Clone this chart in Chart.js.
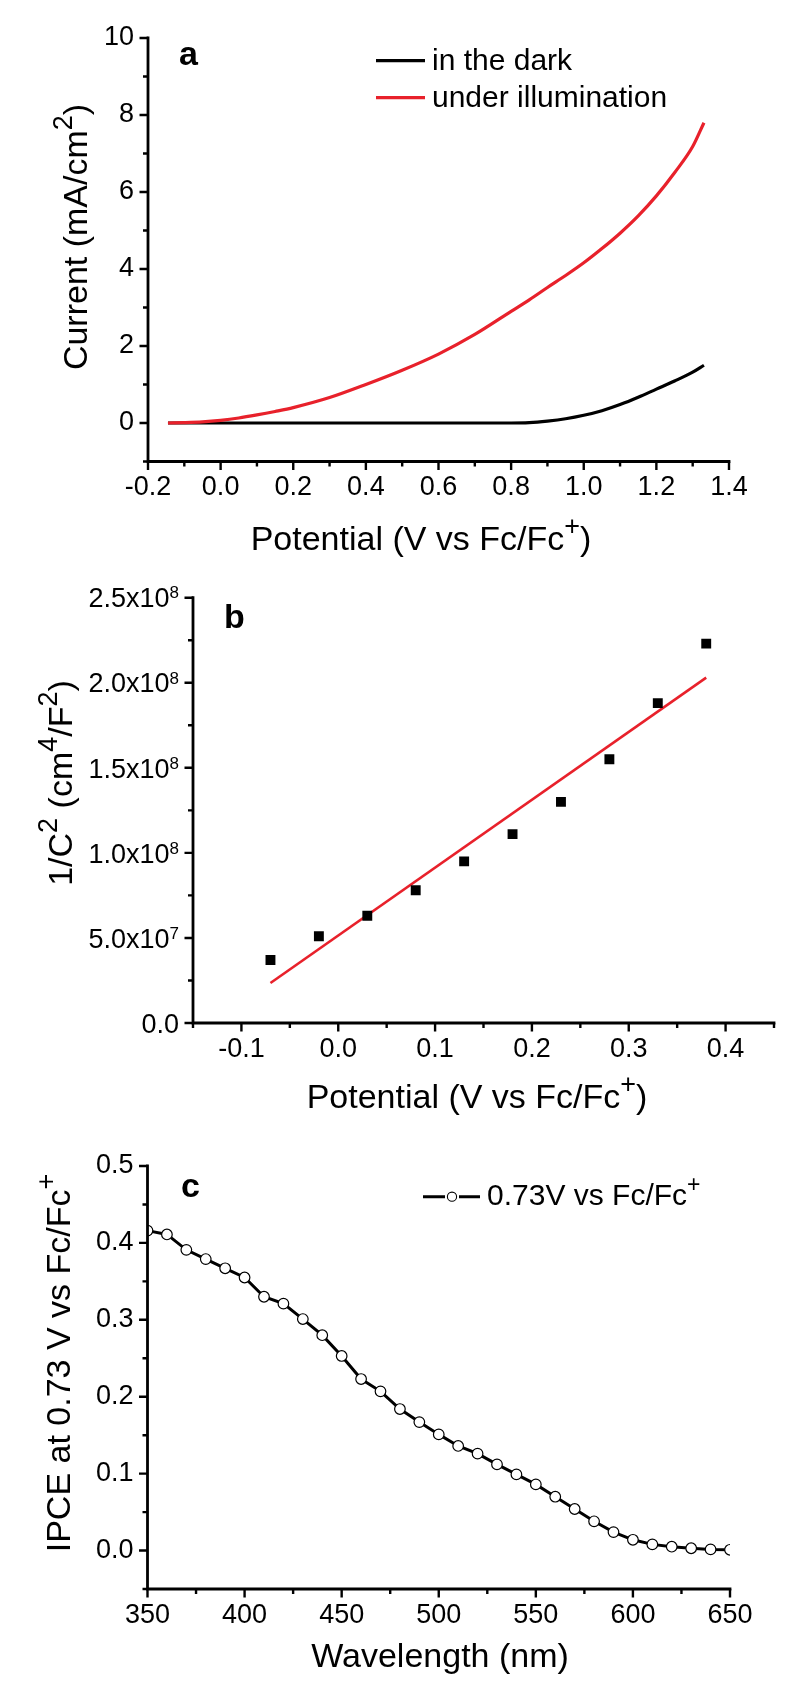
<!DOCTYPE html>
<html>
<head>
<meta charset="utf-8">
<script src="https://cdn.jsdelivr.net/npm/chart.js@4.4.1/dist/chart.umd.min.js"></script>
<style>
  body { margin: 0; background: #fff; }
  #wrap { position: relative; width: 800px; height: 1701px; background: #fff; }
  canvas { position: absolute; left: 0; }
</style>
</head>
<body>
<div id="wrap">
  <canvas id="chartA" width="800" height="560" style="top:0"></canvas>
  <canvas id="chartB" width="800" height="560" style="top:560px"></canvas>
  <canvas id="chartC" width="800" height="581" style="top:1120px"></canvas>
</div>
<script>
const FONT = '"Liberation Sans", Arial, Helvetica, sans-serif';
Chart.defaults.font.family = FONT;
Chart.defaults.color = '#000';
const RED = '#e8212b';

// (a) current vs potential
const aPotential = [-0.145, -0.1, -0.05, 0.0, 0.05, 0.1, 0.15, 0.2, 0.3, 0.4, 0.5, 0.6, 0.7, 0.8, 0.85, 0.9, 0.95, 1.0, 1.05, 1.1, 1.15, 1.2, 1.25, 1.3, 1.331];
const aDark  = [0.0, 0.0, 0.0, 0.0, 0.0, 0.0, 0.0, 0.0, 0.0, 0.0, 0.0, 0.0, 0.0, 0.0, 0.01, 0.05, 0.11, 0.20, 0.32, 0.48, 0.67, 0.88, 1.09, 1.32, 1.50];
const aLight = [0.0, 0.01, 0.03, 0.07, 0.13, 0.21, 0.30, 0.40, 0.66, 1.00, 1.37, 1.79, 2.30, 2.90, 3.20, 3.52, 3.83, 4.16, 4.53, 4.93, 5.38, 5.90, 6.50, 7.18, 7.80];
const aXTicks = [-0.2, 0, 0.2, 0.4, 0.6, 0.8, 1.0, 1.2, 1.4];
const aYTicks = [0, 2, 4, 6, 8, 10];

// (b) Mott-Schottky
const bPotential = [-0.07, -0.02, 0.03, 0.08, 0.13, 0.18, 0.23, 0.28, 0.33, 0.38];
const bInvC2 = [3.7e7, 5.1e7, 6.3e7, 7.8e7, 9.5e7, 1.11e8, 1.30e8, 1.55e8, 1.88e8, 2.23e8];
const bFitX = [-0.07, 0.38];
const bFitY = [2.35e7, 2.03e8];
const bXTicks = [-0.1, 0, 0.1, 0.2, 0.3, 0.4];
const bYTicks = [0, 5e7, 1e8, 1.5e8, 2e8, 2.5e8];

// (c) IPCE
const cWavelength = [350, 360, 370, 380, 390, 400, 410, 420, 430, 440, 450, 460, 470, 480, 490, 500, 510, 520, 530, 540, 550, 560, 570, 580, 590, 600, 610, 620, 630, 640, 650];
const cIPCE = [0.416, 0.411, 0.391, 0.379, 0.367, 0.355, 0.330, 0.321, 0.301, 0.280, 0.253, 0.223, 0.207, 0.184, 0.167, 0.151, 0.136, 0.126, 0.112, 0.099, 0.086, 0.070, 0.054, 0.038, 0.024, 0.014, 0.008, 0.005, 0.003, 0.0015, 0.001];
const cXTicks = [350, 400, 450, 500, 550, 600, 650];
const cYTicks = [0, 0.1, 0.2, 0.3, 0.4, 0.5];

const pts = (xs, ys) => xs.map((x, i) => ({ x, y: ys[i] }));

// text with ^{superscript} parts
function drawRich(ctx, s, x, y, size, align, sup = 0.78, raise = 0.45) {
  const parts = [];
  const re = /\^\{([^}]*)\}/g;
  let last = 0, m;
  while ((m = re.exec(s))) {
    if (m.index > last) parts.push({ t: s.slice(last, m.index) });
    parts.push({ t: m[1], sup: true });
    last = re.lastIndex;
  }
  if (last < s.length) parts.push({ t: s.slice(last) });
  const font = p => (p.sup ? Math.round(size * sup) : size) + 'px ' + FONT;
  let w = 0;
  parts.forEach(p => { ctx.font = font(p); p.w = ctx.measureText(p.t).width; w += p.w; });
  let cx = align === 'center' ? x - w / 2 : align === 'right' ? x - w : x;
  ctx.textAlign = 'left';
  ctx.textBaseline = 'alphabetic';
  parts.forEach(p => {
    ctx.font = font(p);
    ctx.fillText(p.t, cx, p.sup ? y - size * raise : y);
    cx += p.w;
  });
}

function decor(o) {
  return {
    id: 'decor',
    afterDraw(chart) {
      const { ctx, chartArea: a, scales: { x, y } } = chart;
      ctx.save();
      ctx.fillStyle = '#000';
      ctx.strokeStyle = '#000';

      // axis lines
      ctx.lineWidth = 2.8;
      ctx.lineCap = 'square';
      ctx.beginPath();
      ctx.moveTo(a.left, a.top);
      ctx.lineTo(a.left, a.bottom);
      ctx.lineTo(a.right, a.bottom);
      ctx.stroke();

      // major + minor ticks
      ctx.lineWidth = 2.4;
      ctx.lineCap = 'butt';
      const near = (arr, v, step) => arr.some(t => Math.abs(t.value - v) < step * 1e-3);
      ctx.beginPath();
      for (let i = 0; ; i++) {
        const v = x.min + i * o.xMinor;
        if (v > x.max + o.xMinor * 1e-3) break;
        const px = x.getPixelForValue(v);
        ctx.moveTo(px, a.bottom);
        ctx.lineTo(px, a.bottom + (near(x.ticks, v, o.xMinor) ? 8.5 : 5));
      }
      for (let i = 0; ; i++) {
        const v = y.min + i * o.yMinor;
        if (v > y.max + o.yMinor * 1e-3) break;
        const py = y.getPixelForValue(v);
        ctx.moveTo(a.left, py);
        ctx.lineTo(a.left - (near(y.ticks, v, o.yMinor) ? 8.5 : 5), py);
      }
      ctx.stroke();

      // custom y tick labels (scientific)
      if (o.yRich) {
        y.ticks.forEach(t => {
          drawRich(ctx, o.yRich(t.value), a.left - 14, y.getPixelForValue(t.value) + 9.7, 27, 'right', 0.64, 0.33);
        });
      }

      // panel letter
      ctx.font = 'bold 34px ' + FONT;
      ctx.textAlign = 'left';
      ctx.textBaseline = 'alphabetic';
      ctx.fillText(o.letter[0], o.letter[1], o.letter[2]);

      // axis titles
      drawRich(ctx, o.xTitle[0], o.xTitle[1], o.xTitle[2], 34, 'center');
      ctx.save();
      ctx.translate(o.yTitle[1], o.yTitle[2]);
      ctx.rotate(-Math.PI / 2);
      drawRich(ctx, o.yTitle[0], 0, 0, 34, 'center');
      ctx.restore();

      // legend
      if (o.legend) o.legend(ctx, chart);
      ctx.restore();
    }
  };
}

function makeChart(id, datasets, o) {
  const fit = (v) => (s) => { if (s.isHorizontal()) s.height = v; else s.width = v; };
  const tickSet = (arr) => (s) => { s.ticks = arr.map(v => ({ value: v })); };
  return new Chart(document.getElementById(id), {
    type: 'scatter',
    data: { datasets },
    options: {
      responsive: false,
      animation: false,
      events: [],
      layout: { padding: { left: 0, top: o.area.top, right: 800 - o.area.right, bottom: 0 } },
      plugins: { legend: { display: false }, tooltip: { enabled: false } },
      scales: {
        x: {
          type: 'linear', min: o.xRange[0], max: o.xRange[1],
          afterFit: fit(o.h - o.area.bottom),
          afterBuildTicks: tickSet(o.xTicks),
          grid: { display: false, drawTicks: false },
          border: { display: false },
          ticks: { font: { size: 27 }, color: '#000', padding: o.xPad, autoSkip: false, maxRotation: 0, callback: o.xFmt }
        },
        y: {
          type: 'linear', min: o.yRange[0], max: o.yRange[1],
          afterFit: fit(o.area.left),
          afterBuildTicks: tickSet(o.yTicks),
          grid: { display: false, drawTicks: false },
          border: { display: false },
          ticks: { display: !o.yRich, font: { size: 27 }, color: '#000', padding: 14, autoSkip: false, callback: o.yFmt }
        }
      }
    },
    plugins: [decor(o)]
  });
}

// (a)
makeChart('chartA', [
  { label: 'under illumination', data: pts(aPotential, aLight), showLine: true, borderColor: RED, borderWidth: 3.2, pointRadius: 0, cubicInterpolationMode: 'monotone' },
  { label: 'in the dark', data: pts(aPotential, aDark), showLine: true, borderColor: '#000', borderWidth: 3.2, pointRadius: 0, cubicInterpolationMode: 'monotone' }
], {
  h: 560, area: { left: 148, right: 729, top: 38, bottom: 461.5 },
  xRange: [-0.2, 1.4], yRange: [-1, 10], xTicks: aXTicks, yTicks: aYTicks, xMinor: 0.1, yMinor: 1,
  xPad: 10, xFmt: v => v.toFixed(1), yFmt: v => String(v),
  letter: ['a', 179, 65],
  xTitle: ['Potential (V vs Fc/Fc^{+})', 421, 550],
  yTitle: ['Current (mA/cm^{2})', 87, 237],
  legend(ctx, chart) {
    [1, 0].forEach((di, k) => {
      const ds = chart.data.datasets[di];
      const ly = 60.7 + k * 37;
      ctx.strokeStyle = ds.borderColor;
      ctx.lineWidth = 3.2;
      ctx.beginPath(); ctx.moveTo(376, ly); ctx.lineTo(425, ly); ctx.stroke();
      ctx.fillStyle = '#000';
      ctx.font = '30px ' + FONT;
      ctx.textAlign = 'left'; ctx.textBaseline = 'alphabetic';
      ctx.fillText(ds.label, 432, ly + 9);
    });
  }
});

// (b)
makeChart('chartB', [
  { label: 'data', data: pts(bPotential, bInvC2), pointStyle: 'rect', pointRadius: 7, pointBorderWidth: 0, backgroundColor: '#000', borderColor: '#000' },
  { label: 'fit', data: pts(bFitX, bFitY), showLine: true, borderColor: RED, borderWidth: 2.6, pointRadius: 0 }
], {
  h: 560, area: { left: 193, right: 774, top: 37.7, bottom: 463 },
  xRange: [-0.15, 0.45], yRange: [0, 2.5e8], xTicks: bXTicks, yTicks: bYTicks, xMinor: 0.05, yMinor: 2.5e7,
  xPad: 10, xFmt: v => v.toFixed(1),
  yRich: v => {
    if (v === 0) return '0.0';
    const e = Math.floor(Math.log10(v));
    return (v / Math.pow(10, e)).toFixed(1) + 'x10^{' + e + '}';
  },
  letter: ['b', 224, 68],
  xTitle: ['Potential (V vs Fc/Fc^{+})', 477, 548],
  yTitle: ['1/C^{2} (cm^{4}/F^{2})', 72, 223]
});

// (c)
makeChart('chartC', [
  { label: '0.73V vs Fc/Fc^{+}', data: pts(cWavelength, cIPCE), showLine: true, borderColor: '#000', borderWidth: 3, 
    pointStyle: 'circle', pointRadius: 5.3, pointBorderWidth: 1.2, pointBackgroundColor: '#fff', pointBorderColor: '#000' }
], {
  h: 581, area: { left: 147.5, right: 730, top: 46, bottom: 469 },
  xRange: [350, 650], yRange: [-0.05, 0.5], xTicks: cXTicks, yTicks: cYTicks, xMinor: 25, yMinor: 0.05,
  xPad: 10, xFmt: v => String(v), yFmt: v => v.toFixed(1),
  letter: ['c', 181, 77],
  xTitle: ['Wavelength (nm)', 440, 547],
  yTitle: ['IPCE at 0.73 V vs Fc/Fc^{+}', 70, 243],
  legend(ctx, chart) {
    const ds = chart.data.datasets[0];
    const ly = 76.7;
    ctx.strokeStyle = '#000';
    ctx.lineWidth = 3;
    ctx.beginPath();
    ctx.moveTo(423, ly); ctx.lineTo(445, ly);
    ctx.moveTo(459, ly); ctx.lineTo(480, ly);
    ctx.stroke();
    ctx.beginPath();
    ctx.arc(452, ly, 4.6, 0, Math.PI * 2);
    ctx.fillStyle = '#fff'; ctx.fill();
    ctx.lineWidth = 1.1; ctx.stroke();
    ctx.fillStyle = '#000';
    drawRich(ctx, ds.label, 487, ly + 8.5, 30, 'left');
  }
});
</script>
</body>
</html>
